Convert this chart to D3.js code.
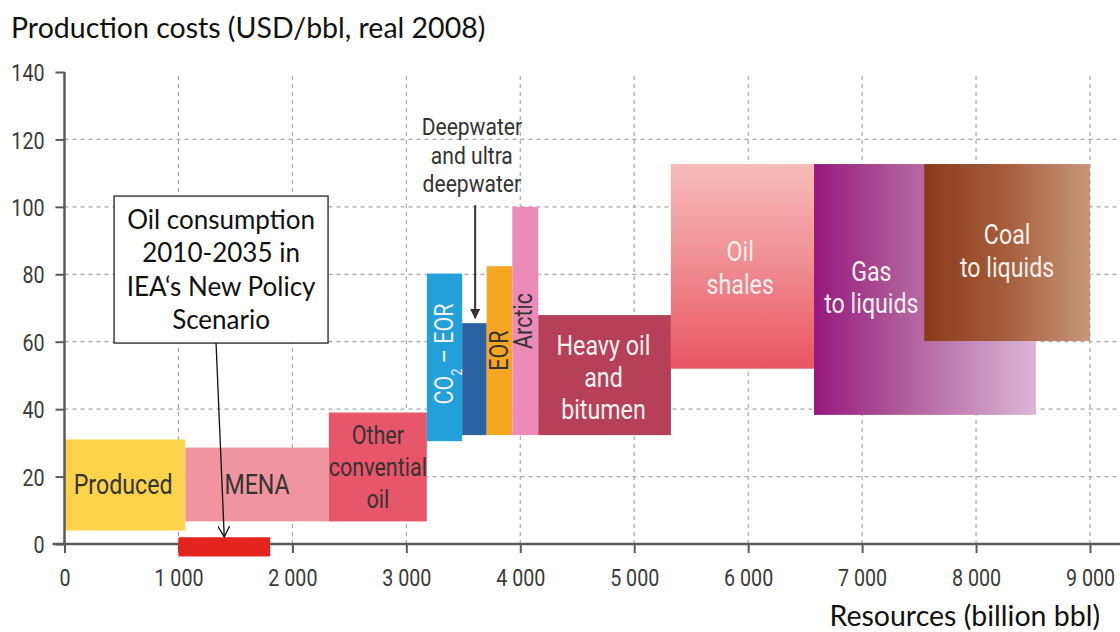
<!DOCTYPE html>
<html>
<head>
<meta charset="utf-8">
<script src="https://cdn.jsdelivr.net/npm/d3@7"></script>
<style>
  body { margin: 0; background: #fff; }
  svg { display: block; }
</style>
</head>
<body>
<div id="chart"></div>
<script>
// resource categories along the supply curve
const categories = ["Produced", "MENA", "Other convential oil", "CO2 - EOR", "Deepwater and ultra deepwater",
                    "EOR", "Arctic", "Heavy oil and bitumen", "Oil shales", "Gas to liquids", "Coal to liquids"];
const resourceStart = [0, 1060, 2320, 3180, 3490, 3705, 3930, 4158, 5322, 6578, 7545];
const resourceEnd   = [1060, 2320, 3180, 3490, 3705, 3930, 4158, 5322, 6578, 8525, 9000];
const costLow  = [4, 6.7, 6.7, 30.5, 32.3, 32.3, 32.3, 32.3, 52, 38.3, 60.2];
const costHigh = [31, 28.6, 39, 80.2, 65.5, 82.4, 100, 67.9, 112.7, 112.7, 112.7];

// oil consumption 2010-2035 (red bar on the axis)
const consumptionRange = [1000, 1805];
const consumptionCost = [-3.7, 2];

const xTicks = [0, 1000, 2000, 3000, 4000, 5000, 6000, 7000, 8000, 9000];
const xTickLabels = ["0", "1 000", "2 000", "3 000", "4 000", "5 000", "6 000", "7 000", "8 000", "9 000"];
const yTicks = [0, 20, 40, 60, 80, 100, 120, 140];

const width = 1120, height = 632;
const x = d3.scaleLinear().domain([0, 9000]).range([64.5, 1090]);
const y = d3.scaleLinear().domain([0, 140]).range([544, 72]);

const svg = d3.select("#chart").append("svg")
  .attr("width", width).attr("height", height);

const defs = svg.append("defs");
function gradient(id, x2, y2, stops) {
  const g = defs.append("linearGradient").attr("id", id)
    .attr("x1", 0).attr("y1", 0).attr("x2", x2).attr("y2", y2);
  stops.forEach(s => g.append("stop").attr("offset", s[0]).attr("stop-color", s[1]));
}
gradient("shales", 0, 1, [[0, "#f6bcb8"], [0.5, "#f08c91"], [1, "#e95562"]]);
gradient("gtl", 1, 0, [[0, "#98187e"], [0.35, "#ac5496"], [1, "#dbb6d8"]]);
gradient("ctl", 1, 0, [[0, "#8a3a19"], [0.5, "#a65e3c"], [1, "#c9967c"]]);

const fills = {
  "Produced": "#fdd349",
  "MENA": "#f0959f",
  "Other convential oil": "#e8566a",
  "CO2 - EOR": "#22a0da",
  "Deepwater and ultra deepwater": "#2a62a2",
  "EOR": "#f5a623",
  "Arctic": "#ec8ab8",
  "Heavy oil and bitumen": "#b6405a",
  "Oil shales": "url(#shales)",
  "Gas to liquids": "url(#gtl)",
  "Coal to liquids": "url(#ctl)"
};

// gridlines
const grid = svg.append("g");
grid.selectAll(".vg").data(xTicks.slice(1)).enter().append("line")
  .attr("x1", d => x(d)).attr("x2", d => x(d))
  .attr("y1", y(0)).attr("y2", y(140))
  .attr("stroke", "#a8a8a8").attr("stroke-width", 1.2).attr("stroke-dasharray", "4,4");
grid.selectAll(".hg").data(yTicks.slice(1, -1)).enter().append("line")
  .attr("x1", x(0)).attr("x2", width)
  .attr("y1", d => y(d)).attr("y2", d => y(d))
  .attr("stroke", "#a8a8a8").attr("stroke-width", 1.2).attr("stroke-dasharray", "4,4");

// resource blocks
const bars = categories.map((c, i) => ({
  name: c, x0: resourceStart[i], x1: resourceEnd[i], lo: costLow[i], hi: costHigh[i]
}));
svg.append("g").selectAll("rect").data(bars).enter().append("rect")
  .attr("x", d => x(d.x0)).attr("width", d => x(d.x1) - x(d.x0))
  .attr("y", d => y(d.hi)).attr("height", d => y(d.lo) - y(d.hi))
  .attr("fill", d => fills[d.name]);

// axes
const axisColor = "#5a5a5a";
const fontTick = "Roboto, 'DejaVu Sans', sans-serif";
const xAxis = svg.append("g").attr("transform", `translate(0,${y(0)})`)
  .call(d3.axisBottom(x).tickValues(xTicks).tickSize(9).tickFormat((d, i) => ""));
xAxis.select(".domain").remove();
xAxis.append("line").attr("x1", x(0) - 12).attr("x2", width).attr("stroke", axisColor).attr("stroke-width", 2.5);
xAxis.selectAll(".tick line").attr("stroke", axisColor).attr("stroke-width", 2);
xAxis.selectAll(".tick").append("g")
  .attr("transform", "translate(0,34) scale(0.82,1)")
  .append("text").text((d, i) => xTickLabels[i])
  .attr("text-anchor", "middle").attr("dy", "0.35em")
  .attr("fill", "#3a3a3a").style("font-family", fontTick).style("font-size", "24px");

const yAxis = svg.append("g").attr("transform", `translate(${x(0)},0)`)
  .call(d3.axisLeft(y).tickValues(yTicks).tickSize(9).tickFormat(""));
yAxis.select(".domain").remove();
yAxis.append("line").attr("y1", y(0)).attr("y2", y(140)).attr("stroke", axisColor).attr("stroke-width", 2.5);
yAxis.selectAll(".tick line").attr("stroke", axisColor).attr("stroke-width", 2);
yAxis.selectAll(".tick").append("g")
  .attr("transform", "translate(-20,0) scale(0.82,1)")
  .append("text").text(d => d)
  .attr("text-anchor", "end").attr("dy", "0.36em")
  .attr("fill", "#3a3a3a").style("font-family", fontTick).style("font-size", "24px");

// consumption bar
svg.append("rect")
  .attr("x", x(consumptionRange[0])).attr("width", x(consumptionRange[1]) - x(consumptionRange[0]))
  .attr("y", y(consumptionCost[1])).attr("height", y(consumptionCost[0]) - y(consumptionCost[1]))
  .attr("fill", "#e3241f");

// labels inside blocks, placed in data units
function label(cx, cy, lines, color, size, lineH, rotate) {
  const g = svg.append("g")
    .attr("transform", `translate(${x(cx)},${y(cy)}) rotate(${rotate || 0}) scale(0.86,1)`);
  const n = lines.length;
  lines.forEach((ln, i) => {
    const t = g.append("text")
      .attr("text-anchor", "middle")
      .attr("y", (i - (n - 1) / 2) * lineH)
      .attr("dy", "0.35em")
      .attr("fill", color)
      .style("font-family", fontTick)
      .style("font-size", size + "px");
    if (Array.isArray(ln)) {
      ln.forEach(part => {
        const s = t.append("tspan").text(part.t);
        if (part.sub) s.attr("baseline-shift", "sub").style("font-size", (size * 0.6) + "px");
      });
    } else {
      t.text(ln);
    }
  });
}
const dark = "#333", light = "#f7f1ef";
const mid = i => (resourceStart[i] + resourceEnd[i]) / 2;
const midY = i => (costLow[i] + costHigh[i]) / 2;
label(mid(0) - 15, midY(0), ["Produced"], dark, 27, 32);
label(mid(1), midY(1), ["MENA"], dark, 27, 32);
label(mid(2), midY(2), ["Other", "convential", "oil"], dark, 25, 32);
label(mid(3), midY(3) + 1, [[{t: "CO"}, {t: "2", sub: true}, {t: " – EOR"}]], light, 25, 32, -90);
label(mid(5), midY(5), ["EOR"], dark, 25, 32, -90);
label(mid(6) - 15, midY(6), ["Arctic"], dark, 25, 32, -90);
label(mid(7) - 10, midY(7) - 0.6, ["Heavy oil", "and", "bitumen"], light, 27, 32);
label(mid(8) - 20, midY(8) - 0.6, ["Oil", "shales"], light, 27, 33);
label((resourceStart[9] + resourceStart[10]) / 2 + 20, midY(9) + 0.6, ["Gas", "to liquids"], light, 27, 32);
label(mid(10), midY(10) + 0.3, ["Coal", "to liquids"], light, 27, 33);
label(3575, 115.4, ["Deepwater", "and ultra", "deepwater"], dark, 24.5, 28.5);

// deepwater arrow
defs.append("marker").attr("id", "headFill").attr("viewBox", "0 0 10 10")
  .attr("refX", 9).attr("refY", 5).attr("markerWidth", 5).attr("markerHeight", 5)
  .attr("orient", "auto").append("path").attr("d", "M0,0 L10,5 L0,10 z").attr("fill", "#333");
svg.append("line")
  .attr("x1", x(3604)).attr("x2", x(3604))
  .attr("y1", y(100.5)).attr("y2", y(67))
  .attr("stroke", "#333").attr("stroke-width", 2).attr("marker-end", "url(#headFill)");

// annotation box
const fontBox = "Lato, 'Open Sans', sans-serif";
svg.append("rect")
  .attr("x", x(435)).attr("width", x(2313) - x(435))
  .attr("y", y(103.2)).attr("height", y(59.6) - y(103.2))
  .attr("fill", "#fff").attr("stroke", "#222").attr("stroke-width", 1.3);
const boxLines = ["Oil consumption", "2010-2035 in", "IEA‘s New Policy", "Scenario"];
svg.append("g").selectAll("text").data(boxLines).enter().append("text")
  .attr("x", x((435 + 2313) / 2))
  .attr("y", (d, i) => y(103.2) + 24 + i * 33.3)
  .attr("dy", "0.35em")
  .attr("text-anchor", "middle").attr("fill", "#111")
  .style("font-family", fontBox).style("font-size", "26px")
  .text(d => d);

defs.append("marker").attr("id", "headOpen").attr("viewBox", "0 0 12 12")
  .attr("refX", 11).attr("refY", 6).attr("markerWidth", 12).attr("markerHeight", 12)
  .attr("markerUnits", "userSpaceOnUse")
  .attr("orient", "auto").append("path").attr("d", "M0,0 L11,6 L0,12")
  .attr("fill", "none").attr("stroke", "#111").attr("stroke-width", 1.3);
svg.append("line")
  .attr("x1", x(1330)).attr("y1", y(59.6))
  .attr("x2", x(1402)).attr("y2", y(2.1))
  .attr("stroke", "#111").attr("stroke-width", 1.3).attr("marker-end", "url(#headOpen)");

// axis titles
svg.append("text").attr("x", 11).attr("y", 28).attr("dy", "0.35em")
  .attr("fill", "#111").style("font-family", fontBox).style("font-size", "28.5px")
  .text("Production costs (USD/bbl, real 2008)");
svg.append("text").attr("x", 1100).attr("y", 616).attr("dy", "0.35em")
  .attr("text-anchor", "end")
  .attr("fill", "#111").style("font-family", fontBox).style("font-size", "28.5px")
  .text("Resources (billion bbl)");
</script>
</body>
</html>
